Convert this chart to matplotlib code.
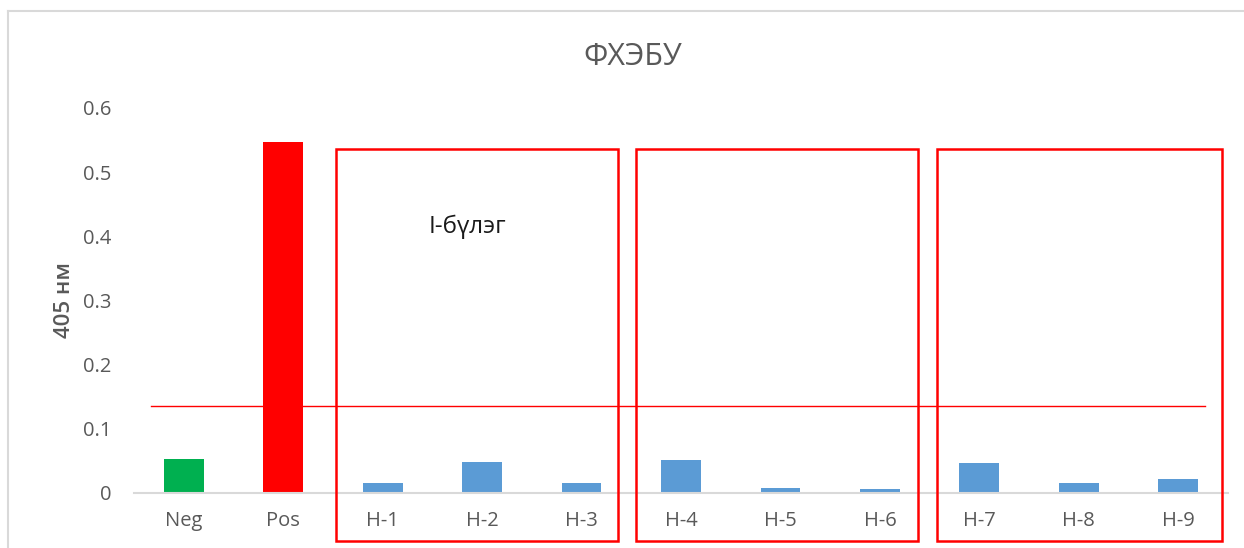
import matplotlib
matplotlib.use("Agg")
import matplotlib.pyplot as plt
from matplotlib.patches import Rectangle
from matplotlib.lines import Line2D

# Data
categories = ["Neg", "Pos", "H-1", "H-2", "H-3", "H-4", "H-5", "H-6", "H-7", "H-8", "H-9"]
values = [0.053, 0.547, 0.015, 0.049, 0.015, 0.052, 0.008, 0.006, 0.047, 0.016, 0.022]
bar_colors = ["#00B050", "#FF0000"] + ["#5B9BD5"] * 9
cutoff = 0.135
y_ticks = [0, 0.1, 0.2, 0.3, 0.4, 0.5, 0.6]
y_tick_labels = ["0", "0.1", "0.2", "0.3", "0.4", "0.5", "0.6"]
title = "ФХЭБУ"
y_label = "405 нм"
group_note = "I-бүлэг"
# sample groups (first index, last index) framed by red boxes
groups = [(2, 4), (5, 7), (8, 10)]

plt.rcParams["font.family"] = ["Open Sans", "DejaVu Sans"]
GRAY = "#595959"

W, H = 1244, 548
fig = plt.figure(figsize=(W / 100, H / 100), dpi=100)
ax = fig.add_axes([134 / W, 55 / H, 1094 / W, 385 / H])

x = list(range(len(categories)))
ax.bar(x, values, width=0.4, color=bar_colors, zorder=2)

ax.set_xlim(-0.5, len(categories) - 0.5)
ax.set_ylim(0, 0.6)
ax.set_yticks(y_ticks)
ax.set_yticklabels(y_tick_labels, color=GRAY, fontsize=14.5)
ax.set_xticks(x)
ax.set_xticklabels(categories, color=GRAY, fontsize=14.5)
ax.tick_params(axis="y", length=0, pad=16)
ax.tick_params(axis="x", length=0, pad=13)
for s in ["top", "right", "left"]:
    ax.spines[s].set_visible(False)
ax.spines["bottom"].set_color("#D9D9D9")
ax.spines["bottom"].set_linewidth(1.5)
ax.set_ylabel(y_label, color=GRAY, fontsize=16, fontweight="semibold", labelpad=6)

# cut-off line
ax.plot([-0.33, 10.27], [cutoff, cutoff], color="#FF0000", lw=1.0, zorder=3)

# red frames around the sample groups
pads = [(0.47, 0.37), (0.45, 0.38), (0.43, 0.44)]
for (g0, g1), (pl, pr) in zip(groups, pads):
    rect = Rectangle((g0 - pl, -0.075), (g1 + pr) - (g0 - pl), 0.536 + 0.075,
                     fill=False, edgecolor="#FF0000", lw=1.8, clip_on=False, zorder=4)
    ax.add_patch(rect)

ax.text(2.85, 0.415, group_note, fontsize=17.5, color="#1a1a1a", ha="center", va="center")

fig.text(633 / W, 1 - 57 / H, title, fontsize=22, color=GRAY, ha="center", va="center")

# chart area border (left and top edges visible)
fig.add_artist(Line2D([8 / W, 8 / W], [0, 1 - 11 / H], transform=fig.transFigure,
                      color="#D9D9D9", lw=1.5))
fig.add_artist(Line2D([8 / W, 1], [1 - 11 / H, 1 - 11 / H], transform=fig.transFigure,
                      color="#D9D9D9", lw=1.5))

fig.savefig("out.png", dpi=100, facecolor="white")
